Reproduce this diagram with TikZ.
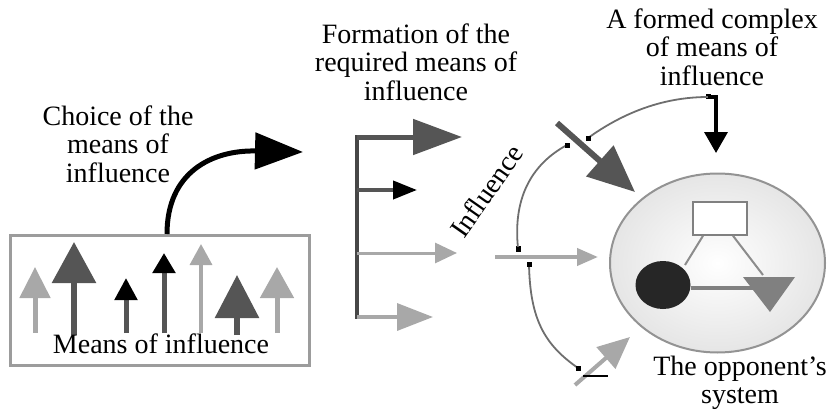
\documentclass[tikz,border=0pt]{standalone}
\usepackage{fontspec}
\setmainfont{Liberation Serif}
\usetikzlibrary{arrows.meta,shapes.geometric,calc}

\definecolor{darkg}{HTML}{555555}
\definecolor{lightg}{HTML}{A8A8A8}
\definecolor{boxg}{HTML}{9C9C9C}
\definecolor{arcg}{HTML}{6E6E6E}
\definecolor{barg}{HTML}{474747}

\begin{document}
\begin{tikzpicture}[x=1pt,y=-1pt,
  font=\fontsize{28}{28.5}\selectfont,
  lbl/.style={align=center,inner sep=0pt},
  tipA/.style 2 args={-{Triangle[length=#1pt,width=#2pt]}},
  tipB/.style 2 args={-{Triangle[length=#1pt,width=#2pt,color=black]}},
  marker/.style={fill=black,inner sep=0pt,minimum size=5pt},
  arcline/.style={draw=arcg,line width=1.8pt}]
\useasboundingbox (0,0) rectangle (828,412);

% ---- pool of available means of influence ----
\node[draw=boxg,line width=3pt,minimum width=299pt,minimum height=130pt,inner sep=0pt] (pool) at (159.5,300) {};
\draw[lightg,line width=5pt,tipA={31}{30}] (35,333) -- (35,267);
\draw[darkg,line width=6pt,tipA={41}{43}] (74,335) -- (74,242);
\draw[darkg,line width=5pt,tipB={22}{22}] (126,333) -- (126,278);
\draw[darkg,line width=5pt,tipB={20}{22}] (164,333) -- (164,253);
\draw[lightg,line width=3.5pt,tipA={21}{22}] (201,333) -- (201,244);
\draw[darkg,line width=6pt,tipA={43}{43}] (237,335) -- (237,275);
\draw[lightg,line width=5pt,tipA={31}{33}] (277,333) -- (277,267);
\node[anchor=base,inner sep=0pt] (means) at (161,353) {Means of influence};

% ---- choice ----
\node[lbl] (choice) at (118,144) {Choice of the\\means of\\influence};
\coordinate (chs) at (167,234);
\coordinate (che) at (303,152);
\draw[black,line width=5pt,tipA={48}{36}] (chs) .. controls (167,172) and (212,150) .. (che);

% ---- formation of the required means ----
\node[lbl] (formation) at (416,62) {Formation of the\\required means of\\influence};
\coordinate (b1) at (357,137);
\coordinate (b2) at (357,190);
\coordinate (b3) at (357,253);
\coordinate (b4) at (357,317);
\draw[barg,line width=4pt] (357,135) -- (357,319);
\coordinate (t1) at (462,137);
\coordinate (t2) at (417,190);
\coordinate (t3) at (457,253);
\coordinate (t4) at (433,317);
\draw[darkg,line width=5pt,tipA={49}{35}] (b1) -- (t1);
\draw[darkg,line width=4pt,tipB={24}{18}] (b2) -- (t2);
\draw[lightg,line width=3pt,tipA={22}{20}] (b3) -- (t3);
\draw[lightg,line width=3.5pt,tipA={36}{27}] (b4) -- (t4);

% ---- influence on the opponent's system ----
\node[rotate=55,anchor=base west,inner sep=0pt] (infl) at (464,240) {Influence};

\node[ellipse,draw=gray!85,line width=2pt,inner color=white,outer color=gray!20,
      minimum width=215pt,minimum height=179pt,inner sep=0pt] (sys) at (717.5,263) {};
\node[draw=gray,line width=1.6pt,fill=white,minimum width=54pt,minimum height=33pt,inner sep=0pt] (rect) at (720,218.5) {};
\node[ellipse,fill=black!85,minimum width=55pt,minimum height=48pt,inner sep=0pt] (blob) at (663,285) {};
\coordinate (triA) at (743,277);
\coordinate (triB) at (795,277);
\coordinate (triC) at (770,312);
\draw[gray!90,line width=2pt] ($(rect.south)+(-17,0)$) -- ($(blob.center)+(22,-20)$);
\draw[gray!90,line width=2pt] ($(rect.south)+(13,0)$) -- (763,275);
\draw[gray,line width=4pt] (blob.east) ++(0,3) -- (770,288);
\fill[gray] (triA) -- (triB) -- (triC) -- cycle;
\node[lbl] (opp) at (740,383) {The opponent’s\\system};

% arcs with their markers
\node[marker] (m1) at (518,248) {};
\node[marker] (m2) at (567,145) {};
\node[marker] (m3) at (588,138) {};
\node[marker] (m4) at (708,97) {};
\node[marker] (m5) at (529,264) {};
\node[marker] (m6) at (578,368) {};
\draw[arcline] (m1.center) .. controls (513,200) and (530,165) .. (m2.center);
\draw[arcline] (m3.center) .. controls (620,115) and (660,97) .. (m4.center);
\draw[arcline] (m5.center) .. controls (530,320) and (545,345) .. (m6.center);

% incoming arrows
\coordinate (h0) at (495,257);
\coordinate (h1) at (598,257);
\draw[lightg,line width=4pt,tipA={21}{17}] (h0) -- (h1);
\node[marker] at (518,249) {};
\node[marker] at (529,264) {};

\coordinate (d0) at (557,123);
\coordinate (d1) at (635,192);
\draw[darkg,line width=6pt,tipA={47}{40}] (d0) -- (d1);
\node[marker] at (567,145) {};
\node[marker] at (588,138) {};

\coordinate (v1) at (716,153);
\draw[black,line width=3.5pt,tipA={21}{23}] (m4.center) -- (716,97) -- (v1);

\coordinate (l0) at (575,385);
\coordinate (l1) at (630,337);
\draw[lightg,line width=4pt,tipA={32}{28}] (l0) -- (l1);
\node[marker] at (578,368) {};
\coordinate (s0) at (583,376);
\coordinate (s1) at (608,376);
\draw[black,line width=1.2pt] (s0) -- (s1);

\node[lbl] (complex) at (712,47) {A formed complex\\of means of\\influence};
\end{tikzpicture}
\end{document}
